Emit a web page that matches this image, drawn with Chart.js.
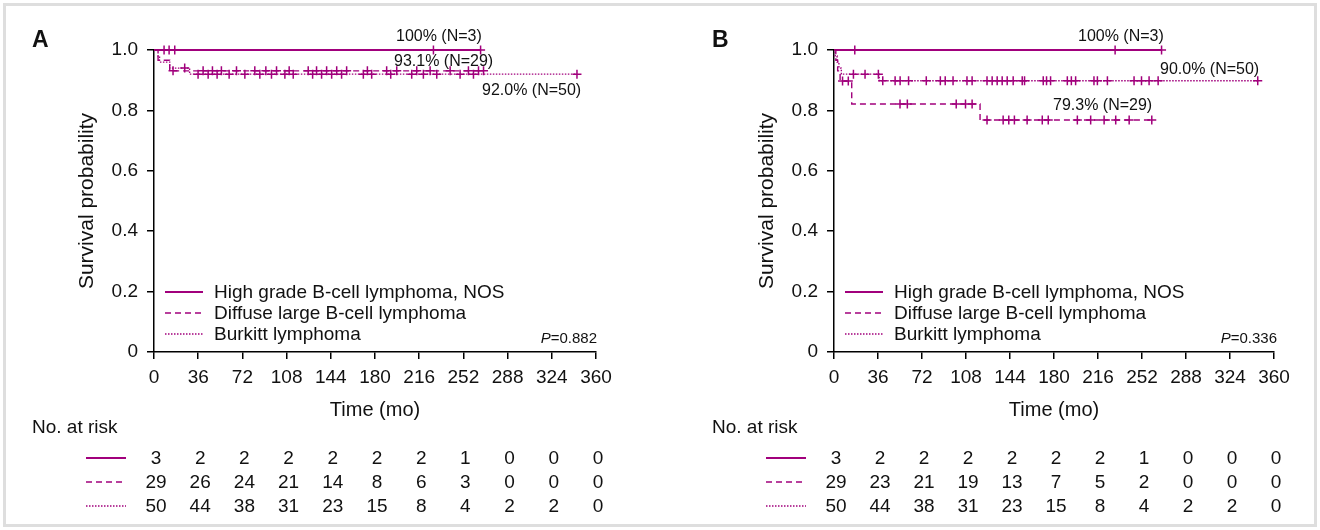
<!DOCTYPE html>
<html>
<head>
<meta charset="utf-8">
<script src="https://cdn.jsdelivr.net/npm/chart.js@4.4.1/dist/chart.umd.min.js"></script>
<style>
  html, body { margin: 0; padding: 0; background: #fff; }
  body { width: 1320px; height: 530px; position: relative; overflow: hidden;
         font-family: "Liberation Sans", Arial, sans-serif; color: #111; }
  .frame { position: absolute; left: 3px; top: 3px; width: 1314px; height: 524px;
           box-sizing: border-box; border: 3px solid #dedede; }
  canvas { position: absolute; top: 0; }
  .txt { position: absolute; white-space: nowrap; height: 24px; line-height: 24px; }
  .letter { font-weight: bold; font-size: 23px; }
  .note { font-size: 16px; }
  .leg { font-size: 19px; }
  .risk { font-size: 19px; transform: translateX(-50%); }
  .pval { font-size: 15px; transform: translateX(-100%); }
  svg { position: absolute; overflow: visible; }
</style>
</head>
<body>
<div class="frame"></div>
<canvas id="chartA" width="640" height="430" style="left:0px"></canvas>
<canvas id="chartB" width="640" height="430" style="left:680px"></canvas>
<div id="overlay"></div>

<script>
// --- Datos ---
const timeTicks = [0, 36, 72, 108, 144, 180, 216, 252, 288, 324, 360];
const groupNames = ['High grade B-cell lymphoma, NOS', 'Diffuse large B-cell lymphoma', 'Burkitt lymphoma'];

// Panel A: eventos [tiempo, supervivencia] y censuras (meses)
const aHighEvents = [];
const aHighCensor = [8.2, 12.3, 16.9, 227.6, 266];
const aDlbclEvents = [[3.3, 0.966], [12.8, 0.931]];
const aDlbclCensor = [15.5, 40, 47.6, 54.9, 67.2, 82.1, 91.1, 99.8, 110.1, 125.6, 132.4, 140.6,
  148.8, 156.9, 173.8, 189.5, 197.7, 214, 224.9, 241.2, 256.1, 264.3, 268.4];
const aBurkittEvents = [[3.3, 0.98], [4.5, 0.96], [12.8, 0.94], [29, 0.92]];
const aBurkittCensor = [25, 35.9, 44.1, 51.4, 61.2, 74, 86.2, 95.7, 106.6, 113.4, 129.2, 136.5,
  144.7, 152.8, 170.5, 177.3, 192.8, 209.9, 219.4, 230.3, 249.3, 260.2, 344.5];

// Panel B
const bHighEvents = [];
const bHighCensor = [17, 230, 268];
const bDlbclEvents = [[1.5, 0.966], [3, 0.931], [5, 0.897], [14.5, 0.821], [119.5, 0.768]];
const bDlbclCensor = [7, 11.7, 54, 60, 100, 107.6, 113, 125.2, 138.4, 143, 147.6, 158, 170.4,
  175.3, 199.1, 210, 221, 230.5, 241.5, 260];
const bBurkittEvents = [[1, 0.98], [2.5, 0.96], [4, 0.94], [6, 0.92], [37, 0.898]];
const bBurkittCensor = [15.9, 25.4, 36.3, 39.9, 50, 54.1, 61, 75.5, 87, 91, 97.4, 108.8, 113,
  125.2, 129.4, 133.5, 137.6, 141.7, 146.6, 154, 155.9, 171.2, 173.9, 177.2, 190.9, 194.2,
  197.7, 212.7, 215.5, 223.7, 245.5, 251.6, 257.8, 265.2, 346.7];

// Número en riesgo
const riskAHigh = [3, 2, 2, 2, 2, 2, 2, 1, 0, 0, 0];
const riskADlbcl = [29, 26, 24, 21, 14, 8, 6, 3, 0, 0, 0];
const riskABurkitt = [50, 44, 38, 31, 23, 15, 8, 4, 2, 2, 0];
const riskBHigh = [3, 2, 2, 2, 2, 2, 2, 1, 0, 0, 0];
const riskBDlbcl = [29, 23, 21, 19, 13, 7, 5, 2, 0, 0, 0];
const riskBBurkitt = [50, 44, 38, 31, 23, 15, 8, 4, 2, 2, 0];

// --- Estilo ---
const PURPLE = '#a1007c';
const FONT = '"Liberation Sans", Arial, sans-serif';
const lineStyles = [
    { width: 2, dash: [] },
    { width: 1.4, dash: [6, 4] },
    { width: 1.4, dash: [1.5, 1.5] }
];

// Construye los puntos escalonados de Kaplan-Meier
function kmPoints(events, censors) {
    const pts = [{ x: 0, y: 1, c: false }];
    const all = events.map(e => ({ t: e[0], s: e[1], c: false }))
        .concat(censors.map(t => ({ t: t, c: true })));
    all.sort((a, b) => a.t - b.t);
    let s = 1;
    all.forEach(p => {
        if (!p.c) s = p.s;
        pts.push({ x: p.t, y: s, c: p.c });
    });
    return pts;
}

function makeDataset(idx, events, censors) {
    const st = lineStyles[idx];
    return {
        label: groupNames[idx],
        data: kmPoints(events, censors),
        stepped: true,
        borderColor: PURPLE,
        borderWidth: st.width,
        borderDash: st.dash,
        pointStyle: 'cross',
        pointRadius: ctx => (ctx.raw && ctx.raw.c ? 4.5 : 0),
        pointBorderWidth: 1.5,
        pointBorderColor: PURPLE,
        pointBackgroundColor: PURPLE,
        pointHoverRadius: 0,
        fill: false,
        clip: false
    };
}

function makeChart(id, datasets, padRight) {
    return new Chart(document.getElementById(id), {
        type: 'line',
        data: { datasets: datasets },
        options: {
            responsive: false,
            animation: false,
            events: [],
            layout: { padding: { left: 66, right: padRight, top: 50, bottom: 0 } },
            plugins: { legend: { display: false }, tooltip: { enabled: false } },
            scales: {
                x: {
                    type: 'linear', min: 0, max: 360,
                    afterFit: s => { s.height = 78; },
                    afterBuildTicks: s => { s.ticks = timeTicks.map(v => ({ value: v })); },
                    border: { color: '#000', width: 1.5 },
                    grid: { drawOnChartArea: false, drawTicks: true, tickLength: 7, color: '#000', lineWidth: 1.5 },
                    ticks: { font: { family: FONT, size: 19 }, color: '#111', padding: 7, maxRotation: 0 },
                    title: { display: true, text: 'Time (mo)', font: { family: FONT, size: 20 }, color: '#111', padding: { top: 0, bottom: 8 } }
                },
                y: {
                    type: 'linear', min: 0, max: 1,
                    afterFit: s => { s.width = 88; },
                    border: { color: '#000', width: 1.5 },
                    grid: { drawOnChartArea: false, drawTicks: true, tickLength: 7, color: '#000', lineWidth: 1.5 },
                    ticks: {
                        stepSize: 0.2, font: { family: FONT, size: 19 }, color: '#111', padding: 9,
                        callback: v => (v === 0 ? '0' : v.toFixed(1))
                    },
                    title: { display: true, text: 'Survival probability', font: { family: FONT, size: 21 }, color: '#111', padding: { top: 9, bottom: 0 } }
                }
            }
        }
    });
}

const chartA = makeChart('chartA', [
    makeDataset(0, aHighEvents, aHighCensor),
    makeDataset(1, aDlbclEvents, aDlbclCensor),
    makeDataset(2, aBurkittEvents, aBurkittCensor)
], 44);

const chartB = makeChart('chartB', [
    makeDataset(0, bHighEvents, bHighCensor),
    makeDataset(1, bDlbclEvents, bDlbclCensor),
    makeDataset(2, bBurkittEvents, bBurkittCensor)
], 46);

// --- Textos en HTML ---
const overlay = document.getElementById('overlay');

function addText(cls, text, left, cy) {
    const d = document.createElement('div');
    d.className = 'txt ' + cls;
    d.innerHTML = text;
    d.style.left = left + 'px';
    d.style.top = (cy - 12) + 'px';
    overlay.appendChild(d);
}

function addSample(idx, x1, x2, cy) {
    const st = lineStyles[idx];
    const ns = 'http://www.w3.org/2000/svg';
    const svg = document.createElementNS(ns, 'svg');
    svg.setAttribute('width', x2 - x1);
    svg.setAttribute('height', 4);
    svg.style.left = x1 + 'px';
    svg.style.top = (cy - 2) + 'px';
    const ln = document.createElementNS(ns, 'line');
    ln.setAttribute('x1', 0); ln.setAttribute('x2', x2 - x1);
    ln.setAttribute('y1', 2); ln.setAttribute('y2', 2);
    ln.setAttribute('stroke', PURPLE);
    ln.setAttribute('stroke-width', st.width);
    if (st.dash.length) ln.setAttribute('stroke-dasharray', st.dash.join(' '));
    svg.appendChild(ln);
    overlay.appendChild(svg);
}

function decorate(chart, off, letter, pText, notes, risks) {
    addText('letter', letter, 32 + off, 39);
    notes.forEach(n => addText('note', n[0], n[1] + off, n[2]));

    // Leyenda dentro del gráfico
    const legY = [292, 313, 334];
    groupNames.forEach((g, i) => {
        addSample(i, 165 + off, 203 + off, legY[i]);
        addText('leg', g, 214 + off, legY[i]);
    });
    addText('pval', '<i>P</i>=' + pText, 597 + off, 338);

    // Tabla de número en riesgo
    addText('leg', 'No. at risk', 32 + off, 427);
    const rowY = [458, 482, 506];
    risks.forEach((row, i) => {
        addSample(i, 86 + off, 126 + off, rowY[i]);
        row.forEach((n, k) => {
            const px = chart.scales.x.getPixelForValue(timeTicks[k]) + off + 2;
            addText('risk', String(n), px, rowY[i]);
        });
    });
}

decorate(chartA, 0, 'A', '0.882',
    [['100% (N=3)', 396, 36], ['93.1% (N=29)', 394, 61], ['92.0% (N=50)', 482, 90]],
    [riskAHigh, riskADlbcl, riskABurkitt]);

decorate(chartB, 680, 'B', '0.336',
    [['100% (N=3)', 398, 36], ['90.0% (N=50)', 480, 69], ['79.3% (N=29)', 373, 105]],
    [riskBHigh, riskBDlbcl, riskBBurkitt]);
</script>
</body>
</html>
